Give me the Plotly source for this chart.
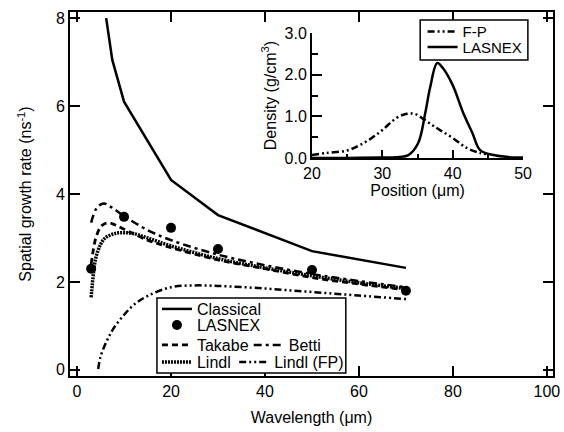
import plotly.graph_objects as go

# ---- main panel data ----
classical_x = [6.2, 7.5, 10, 20, 30, 50, 70]
classical_y = [8.0, 7.05, 6.1, 4.32, 3.52, 2.70, 2.32]

lasnex_x = [3, 10, 20, 30, 50, 70]
lasnex_y = [2.30, 3.48, 3.23, 2.75, 2.27, 1.80]

takabe_x = [3, 3.5, 4, 5, 6, 7, 8, 10, 15, 20, 30, 40, 50, 60, 70]
takabe_y = [2.4, 2.75, 3.0, 3.25, 3.33, 3.34, 3.3, 3.2, 2.95, 2.78, 2.5, 2.3, 2.1, 1.95, 1.82]

betti_x = [3, 4, 5, 6, 7, 8, 10, 15, 20, 30, 40, 50, 60, 70]
betti_y = [3.35, 3.65, 3.76, 3.78, 3.72, 3.65, 3.5, 3.18, 2.95, 2.62, 2.38, 2.18, 2.02, 1.88]

lindl_x = [3, 3.5, 4, 5, 6, 8, 10, 12, 15, 20, 30, 40, 50, 60, 70]
lindl_y = [1.65, 2.2, 2.55, 2.85, 3.0, 3.1, 3.12, 3.1, 3.0, 2.82, 2.53, 2.32, 2.14, 1.98, 1.85]

lindlfp_x = [4.5, 5, 6, 7, 8, 10, 12, 15, 20, 25, 30, 40, 50, 60, 70]
lindlfp_y = [0.02, 0.3, 0.58, 0.8, 0.98, 1.25, 1.47, 1.68, 1.88, 1.92, 1.91, 1.85, 1.77, 1.69, 1.61]

# ---- inset data ----
fp_x = [20, 22, 25, 26.8, 28.5, 30, 32, 33.5, 34.6, 35.8, 37, 38.2, 40, 42, 43.9, 45]
fp_y = [0.07, 0.12, 0.18, 0.31, 0.48, 0.67, 0.96, 1.06, 1.06, 0.94, 0.8, 0.67, 0.48, 0.24, 0.12, 0.09]

lnx_x = [20, 25, 30, 32, 33.7, 35.1, 36.1, 36.8, 37.8, 38.6, 40, 41.5, 42.8, 43.9, 45.8, 48, 50]
lnx_y = [0.0, 0.0, 0.01, 0.02, 0.07, 0.36, 1.08, 1.7, 2.28, 2.16, 1.75, 1.08, 0.6, 0.19, 0.07, 0.02, 0.01]

FONT = "Liberation Sans, Arial, sans-serif"
BLACK = "black"

fig = go.Figure()

fig.add_trace(go.Scatter(x=classical_x, y=classical_y, mode="lines", name="Classical",
                         line=dict(color=BLACK, width=2.5), legend="legend"))
fig.add_trace(go.Scatter(x=lasnex_x, y=lasnex_y, mode="markers", name="LASNEX",
                         marker=dict(color=BLACK, size=10), legend="legend2"))
fig.add_trace(go.Scatter(x=takabe_x, y=takabe_y, mode="lines", name="Takabe", line_shape="spline",
                         line=dict(color=BLACK, width=2.8, dash="6px,4px"), legend="legend3"))
fig.add_trace(go.Scatter(x=betti_x, y=betti_y, mode="lines", name="Betti", line_shape="spline",
                         line=dict(color=BLACK, width=2.5, dash="8px,4px,3px,4px"), legend="legend7"))
fig.add_trace(go.Scatter(x=lindl_x, y=lindl_y, mode="lines", name="Lindl", line_shape="spline",
                         line=dict(color=BLACK, width=3.5, dash="2px,1px"), legend="legend4"))
fig.add_trace(go.Scatter(x=lindlfp_x, y=lindlfp_y, mode="lines", name="Lindl (FP)", line_shape="spline",
                         line=dict(color=BLACK, width=2.5, dash="7px,3px,2px,3px,2px,3px"), legend="legend8"))

fig.add_trace(go.Scatter(x=fp_x, y=fp_y, mode="lines", name="F-P", xaxis="x2", yaxis="y2",
                         line_shape="spline",
                         line=dict(color=BLACK, width=2.5, dash="7px,3px,2px,3px,2px,3px"), legend="legend5"))
fig.add_trace(go.Scatter(x=lnx_x, y=lnx_y, mode="lines", name="LASNEX", xaxis="x2", yaxis="y2",
                         line_shape="spline",
                         line=dict(color=BLACK, width=2.5), legend="legend6"))

axis_common = dict(showline=True, linecolor=BLACK, linewidth=2, ticks="inside", tickcolor=BLACK,
                   tickwidth=1.5, showgrid=False, zeroline=False, automargin=False,
                   tickfont=dict(family=FONT, size=16, color=BLACK))

fig.update_layout(
    width=564, height=432,
    margin=dict(l=70, r=11, t=12, b=56),
    paper_bgcolor="white", plot_bgcolor="white",
    font=dict(family=FONT, size=16, color=BLACK),
    xaxis=dict(**axis_common, range=[-1.5, 101.3], tickvals=[0, 20, 40, 60, 80, 100],
               ticklen=10, mirror="ticks", domain=[0, 1],
               title=dict(text="Wavelength (μm)", font=dict(family=FONT, size=16), standoff=13)),
    yaxis=dict(**axis_common, range=[-0.14, 8.14], tickvals=[0, 2, 4, 6, 8],
               ticklen=10, mirror="ticks", domain=[0, 1],
               title=dict(text="Spatial growth rate (ns<sup>-1</sup>)", font=dict(family=FONT, size=16),
                          standoff=20)),
    xaxis2=dict(**axis_common, range=[20, 50], tickvals=[20, 30, 40, 50], ticklen=8,
                anchor="y2", domain=[0.501, 0.938],
                minor=dict(tickvals=[25, 35, 45], ticklen=4, ticks="inside", tickcolor=BLACK, tickwidth=1.5),
                title=dict(text="Position (μm)", font=dict(family=FONT, size=16), standoff=0)),
    yaxis2=dict(**axis_common, range=[0, 3.0], tickvals=[0, 1, 2, 3], tickformat=".1f", ticklen=10,
                anchor="x2", domain=[0.599, 0.942],
                minor=dict(tickvals=[0.5, 1.5, 2.5], ticklen=6, ticks="inside", tickcolor=BLACK, tickwidth=1.5),
                title=dict(text="Density (g/cm<sup>3</sup>)", font=dict(family=FONT, size=16), standoff=4)),
    showlegend=True,
)

leg_common = dict(bgcolor="rgba(0,0,0,0)", borderwidth=0, font=dict(family=FONT, size=16, color=BLACK),
                  xanchor="left", yanchor="middle", itemwidth=30)
leg_small = dict(leg_common, font=dict(family=FONT, size=15, color=BLACK))
fig.update_layout(
    legend=dict(**leg_common, x=0.180, y=0.184),
    legend2=dict(**leg_common, x=0.180, y=0.140),
    legend3=dict(**leg_common, x=0.180, y=0.085),
    legend7=dict(**leg_common, x=0.370, y=0.085),
    legend4=dict(**leg_common, x=0.180, y=0.038),
    legend8=dict(**leg_common, x=0.340, y=0.038),
    legend5=dict(**leg_small, x=0.730, y=0.946),
    legend6=dict(**leg_small, x=0.730, y=0.903),
)

# legend frames
fig.add_shape(type="rect", xref="paper", yref="paper", x0=0.180, x1=0.571, y0=0.008, y1=0.214,
              line=dict(color=BLACK, width=1.5), fillcolor="white", layer="above")
fig.add_shape(type="rect", xref="paper", yref="paper", x0=0.725, x1=0.948, y0=0.868, y1=0.978,
              line=dict(color=BLACK, width=1.5), fillcolor="white", layer="above")

fig.write_html("out.html", config={"displayModeBar": False},
               post_script="document.body.style.margin='0';document.body.style.overflow='hidden';")
